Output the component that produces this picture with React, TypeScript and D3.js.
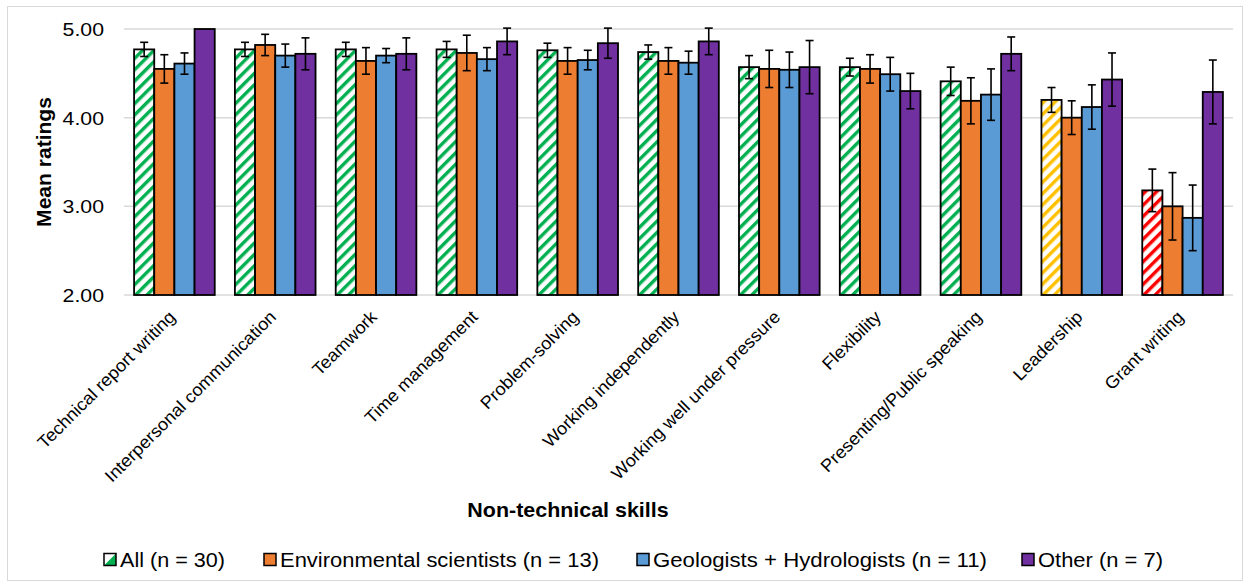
import React from "react";
import * as d3 from "d3";

const categories = [
  "Technical report writing",
  "Interpersonal communication",
  "Teamwork",
  "Time management",
  "Problem-solving",
  "Working independently",
  "Working well under pressure",
  "Flexibility",
  "Presenting/Public speaking",
  "Leadership",
  "Grant writing",
];

const seriesNames = [
  "All (n = 30)",
  "Environmental scientists (n = 13)",
  "Geologists + Hydrologists (n = 11)",
  "Other (n = 7)",
];

const allMean = [4.77, 4.77, 4.77, 4.77, 4.76, 4.74, 4.57, 4.57, 4.41, 4.2, 3.18];
const allErr = [0.08, 0.08, 0.08, 0.09, 0.08, 0.08, 0.13, 0.1, 0.16, 0.14, 0.24];
const envMean = [4.55, 4.82, 4.64, 4.73, 4.64, 4.64, 4.55, 4.55, 4.19, 4.0, 3.0];
const envErr = [0.16, 0.12, 0.15, 0.2, 0.15, 0.15, 0.21, 0.16, 0.26, 0.19, 0.38];
const geoMean = [4.61, 4.7, 4.7, 4.66, 4.65, 4.62, 4.54, 4.49, 4.26, 4.12, 2.87];
const geoErr = [0.12, 0.13, 0.08, 0.13, 0.11, 0.13, 0.2, 0.19, 0.29, 0.25, 0.37];
const otherMean = [5.0, 4.72, 4.72, 4.86, 4.84, 4.86, 4.57, 4.3, 4.72, 4.43, 4.29];
const otherErr = [0, 0.18, 0.18, 0.15, 0.17, 0.15, 0.3, 0.2, 0.19, 0.3, 0.36];

const yTicks = [2, 3, 4, 5];

const FONT = "'Liberation Sans', Arial, Helvetica, sans-serif";
const seriesColors = ["#FFFFFF", "#ED7D31", "#5B9BD5", "#7030A0"];

// stripe color for "All" depends on the rating level
function allStripe(v: number) {
  if (v >= 4.3) return "url(#stripeGreen)";
  if (v >= 3.5) return "url(#stripeYellow)";
  return "url(#stripeRed)";
}

export default function App() {
  const W = 1250;
  const H = 585;
  const left = 124;
  const right = 1233;
  const top = 29;
  const bottom = 295;

  const x = d3
    .scaleBand<string>()
    .domain(categories)
    .range([left, right])
    .paddingInner(0.2)
    .paddingOuter(0.1);
  const xs = d3
    .scaleBand<number>()
    .domain([0, 1, 2, 3])
    .range([0, x.bandwidth()]);
  const y = d3.scaleLinear().domain([2, 5]).range([bottom, top]);

  const means = [allMean, envMean, geoMean, otherMean];
  const errs = [allErr, envErr, geoErr, otherErr];

  // legend layout: swatch x and text width
  const legendX = [104, 264, 637, 1022];
  const legendW = [105, 319, 334, 125];

  return (
    <svg
      width={W}
      height={H}
      style={{ position: "absolute", left: 0, top: 0, background: "#fff" }}
      fontFamily={FONT}
    >
      <defs>
        {[
          ["stripeGreen", "#00B050"],
          ["stripeYellow", "#FFC000"],
          ["stripeRed", "#FF0000"],
        ].map(([id, c]) => (
          <pattern
            key={id}
            id={id}
            width={8}
            height={8}
            patternUnits="userSpaceOnUse"
            patternTransform="rotate(45)"
          >
            <rect width={8} height={8} fill="#fff" />
            <rect width={3.4} height={8} fill={c} />
          </pattern>
        ))}
      </defs>

      <rect x={0} y={0} width={W} height={H} fill="#fff" />
      <rect
        x={7.5}
        y={6.5}
        width={1235}
        height={574}
        fill="none"
        stroke="#d9d9d9"
        strokeWidth={1}
      />

      {/* gridlines */}
      {yTicks.map((t) => (
        <line
          key={t}
          x1={left}
          x2={right}
          y1={y(t)}
          y2={y(t)}
          stroke="#d9d9d9"
          strokeWidth={1.5}
        />
      ))}

      {/* y tick labels */}
      {yTicks.map((t) => (
        <text
          key={t}
          transform={`translate(104,${y(t) + 7}) scale(1.12,1)`}
          textAnchor="end"
          fontSize={19}
          fill="#000"
        >
          {t.toFixed(2)}
        </text>
      ))}

      {/* y title */}
      <text
        transform={`translate(51,${(top + bottom) / 2}) rotate(-90) scale(1.08,1)`}
        textAnchor="middle"
        fontSize={19.5}
        fontWeight="bold"
      >
        Mean ratings
      </text>

      {/* bars */}
      {categories.map((c, i) => (
        <g key={c} transform={`translate(${x(c)},0)`}>
          {means.map((m, s) => {
            const v = m[i];
            const bx = xs(s)!;
            const fill = s === 0 ? allStripe(v) : seriesColors[s];
            return (
              <rect
                key={s}
                x={bx}
                y={y(v)}
                width={xs.bandwidth()}
                height={y(2) - y(v)}
                fill={fill}
                stroke="#000"
                strokeWidth={1.8}
              />
            );
          })}
          {means.map((m, s) => {
            const v = m[i];
            const e = errs[s][i];
            if (!e) return null;
            const cx = xs(s)! + xs.bandwidth() / 2;
            return (
              <g key={"e" + s} stroke="#000" strokeWidth={1.6}>
                <line x1={cx} x2={cx} y1={y(v + e)} y2={y(v - e)} />
                <line x1={cx - 4} x2={cx + 4} y1={y(v + e)} y2={y(v + e)} />
                <line x1={cx - 4} x2={cx + 4} y1={y(v - e)} y2={y(v - e)} />
              </g>
            );
          })}
        </g>
      ))}

      {/* x tick labels */}
      {categories.map((c) => {
        const px = x(c)! + x.bandwidth() / 2 + 2;
        return (
          <text
            key={c}
            transform={`translate(${px},318) rotate(-45) scale(1.04,1)`}
            textAnchor="end"
            fontSize={17.5}
            fill="#000"
          >
            {c}
          </text>
        );
      })}

      {/* x title */}
      <text
        transform={`translate(568,517) scale(1.1,1)`}
        textAnchor="middle"
        fontSize={19.5}
        fontWeight="bold"
      >
        Non-technical skills
      </text>

      {/* legend */}
      {seriesNames.map((n, s) => {
        const lx = legendX[s];
        const sy = 553.5;
        const sz = 12;
        return (
          <g key={n}>
            {s === 0 ? (
              <g>
                <rect x={lx} y={sy} width={sz} height={sz} fill="#fff" />
                <path
                  d={`M${lx + sz},${sy} L${lx + sz},${sy + sz} L${lx},${sy + sz} Z`}
                  fill="#00B050"
                />
                <rect
                  x={lx}
                  y={sy}
                  width={sz}
                  height={sz}
                  fill="none"
                  stroke="#000"
                  strokeWidth={1.5}
                />
              </g>
            ) : (
              <rect
                x={lx}
                y={sy}
                width={sz}
                height={sz}
                fill={seriesColors[s]}
                stroke="#000"
                strokeWidth={1.5}
              />
            )}
            <text
              x={lx + 16}
              y={567}
              fontSize={20}
              fill="#000"
              textLength={legendW[s]}
              lengthAdjust="spacingAndGlyphs"
            >
              {n}
            </text>
          </g>
        );
      })}
    </svg>
  );
}
